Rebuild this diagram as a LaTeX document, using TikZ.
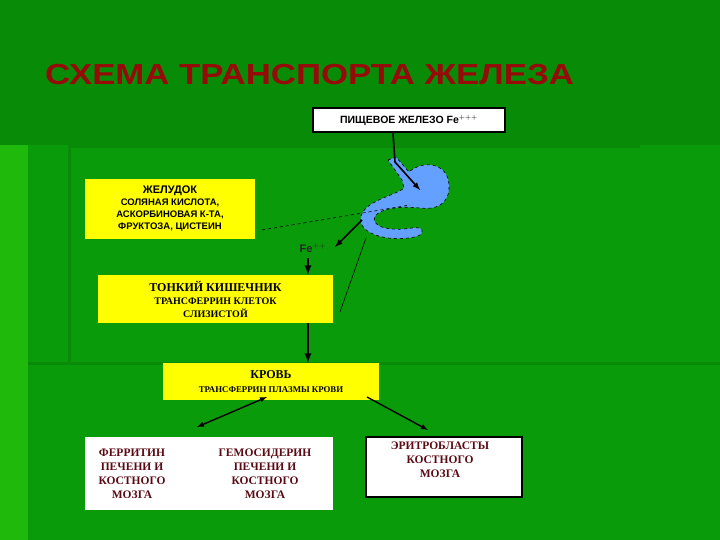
\documentclass[tikz,border=0pt]{standalone}
\usepackage{fontspec}
\setmainfont{Liberation Serif}
\setsansfont{Liberation Sans}
\definecolor{bgA}{RGB}{8,140,8}
\definecolor{bgB}{RGB}{10,155,10}
\definecolor{bgC}{RGB}{30,185,10}
\definecolor{ybox}{RGB}{255,255,0}
\definecolor{dred}{RGB}{90,10,20}
\definecolor{ttl}{RGB}{150,10,10}
\definecolor{stom}{RGB}{100,160,255}
\begin{document}
\begin{tikzpicture}[x=1pt,y=-1pt,
  ybx/.style={fill=ybox,draw=none,inner sep=0pt,align=center},
  wbx/.style={fill=white,draw=black,line width=1.5pt,inner sep=0pt,align=center},
  sf/.style={font=\sffamily\bfseries\fontsize{10.5}{12}\selectfont,text=black},
  rf/.style={font=\rmfamily\bfseries\fontsize{11.5}{14}\selectfont,text=dred},
  arr/.style={-latex,line width=1.6pt},
  thin/.style={line width=0.6pt}]
\fill[bgA] (0,0) rectangle (720,540);
\fill[bgB] (28,145) rectangle (720,540);
\fill[bgC] (0,145) rectangle (28,540);
\fill[bgB!90!black] (68,145) rectangle (640,148);
\fill[bgB!90!black] (68,145) rectangle (71,362);
\fill[bgB!90!black] (28,362) rectangle (720,365);
\node[anchor=west,xscale=1.2,transform shape,font=\sffamily\bfseries\fontsize{29}{32}\selectfont,text=ttl,inner sep=0pt] (title) at (45,75) {СХЕМА ТРАНСПОРТА ЖЕЛЕЗА};
% stomach
\fill[stom,draw=black,dashed,thin] (388,160) -- (396,157) -- (409,172)
  .. controls (422,160) and (448,162) .. (449,185)
  .. controls (450,205) and (435,210) .. (420,208)
  .. controls (400,206) and (382,208) .. (375,216)
  .. controls (370,226) and (388,232) .. (412,228)
  .. controls (424,226) and (425,233) .. (418,236)
  .. controls (395,243) and (356,236) .. (361,216)
  .. controls (366,200) and (395,196) .. (404,188)
  -- (402,180) -- cycle;
% boxes
\node[wbx,minimum width=192,minimum height=24,sf] (food) at (409,120) {ПИЩЕВОЕ ЖЕЛЕЗО Fe$^{+++}$};
\node[ybx,minimum width=170,minimum height=60,font=\sffamily\bfseries\fontsize{9.5}{12}\selectfont] (zhel) at (170,209) {{\fontsize{11}{12}\selectfont ЖЕЛУДОК}\\СОЛЯНАЯ КИСЛОТА,\\АСКОРБИНОВАЯ К-ТА,\\ФРУКТОЗА, ЦИСТЕИН};
\node[ybx,minimum width=235,minimum height=48,font=\rmfamily\bfseries\fontsize{10}{13}\selectfont] (kish) at (215.5,299) {{\fontsize{12}{14}\selectfont ТОНКИЙ КИШЕЧНИК}\\ТРАНСФЕРРИН КЛЕТОК\\СЛИЗИСТОЙ};
\node[ybx,minimum width=216,minimum height=37,font=\rmfamily\bfseries\fontsize{12}{14}\selectfont] (krov) at (271,381.5) {КРОВЬ\\{\fontsize{8.8}{11}\selectfont ТРАНСФЕРРИН ПЛАЗМЫ КРОВИ}};
\node[fill=white,minimum width=248,minimum height=73,inner sep=0pt] (left) at (209,473.5) {};
\node[rf,align=center] (ferr) at (132,474) {ФЕРРИТИН\\ПЕЧЕНИ И\\КОСТНОГО\\МОЗГА};
\node[rf,align=center] (gemo) at (265,474) {ГЕМОСИДЕРИН\\ПЕЧЕНИ И\\КОСТНОГО\\МОЗГА};
\node[wbx,minimum width=156,minimum height=60] (right) at (444,467) {};
\node[rf,align=center] (erit) at (440,460) {ЭРИТРОБЛАСТЫ\\КОСТНОГО\\МОЗГА};
\node[font=\sffamily\bfseries\fontsize{11}{12}\selectfont,text=black!85] (fe) at (313,248) {Fe$^{++}$};
% connectors
\coordinate (s1) at (420,190);
\coordinate (s2) at (362,220);
\coordinate (s3) at (410,205);
\coordinate (s4) at (366,238);
\draw[arr] (food.south -| 393,0) -- (395,162) -- (s1);
\draw[arr] (s2) -- (335,247);
\draw[arr,line width=2.2pt] (308,258) -- (kish.north -| 308,0);
\draw[arr,line width=2.2pt] (kish.south -| 308,0) -- (krov.north -| 308,0);
\draw[thin,dashed] (262,230) -- (s3);
\draw[thin] (340,312) -- (s4);
\draw[latex-latex,line width=1.4pt] (267,397) -- (197,427);
\draw[arr,line width=1.4pt] (367,397) -- (428,430);
\end{tikzpicture}
\end{document}
